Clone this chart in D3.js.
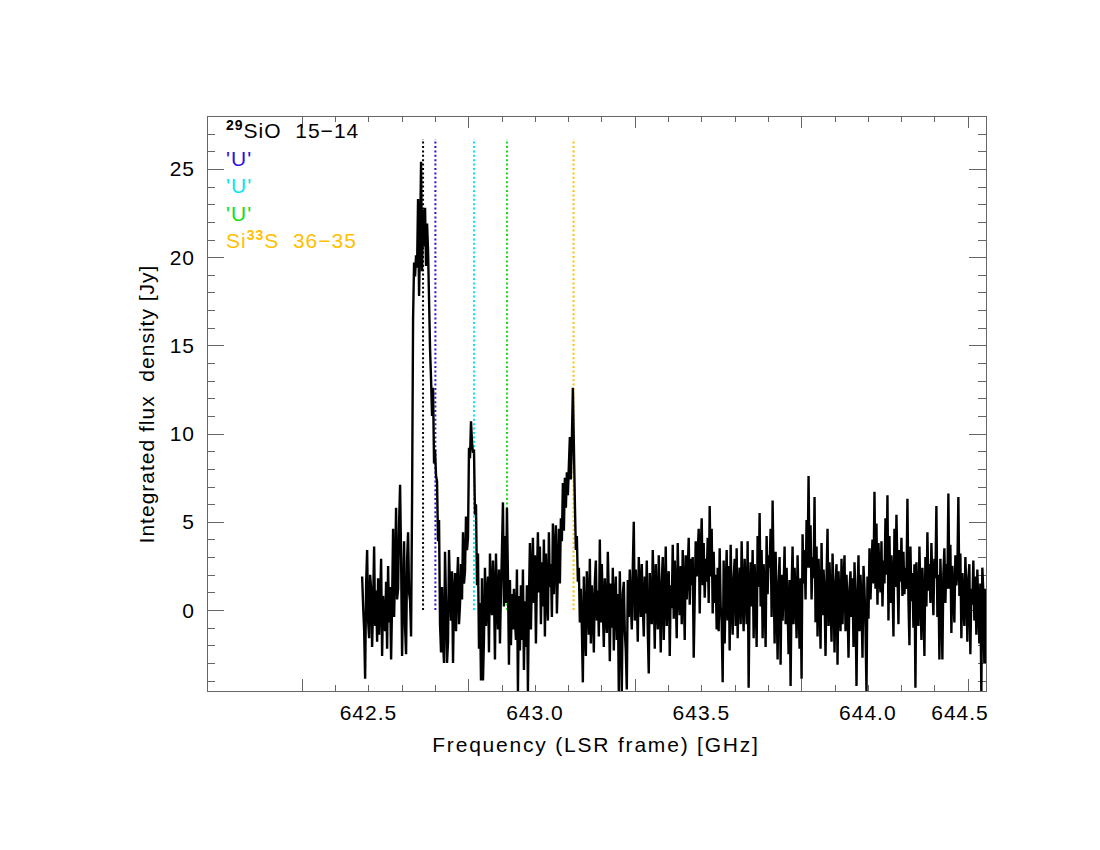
<!DOCTYPE html>
<html>
<head>
<title>Spectrum</title>
<style type="text/css">
body{ margin: 0; background: #fff; }
text{ font-family: "Liberation Sans", Arial, sans-serif; white-space: pre; letter-spacing: 1px; }
.axis line{ stroke: #666; stroke-width: 1; shape-rendering: crispEdges; }
.axis path{ display: none; }
</style>
<script src="https://cdn.jsdelivr.net/npm/d3@7/dist/d3.min.js"></script>
</head>
<body>
<script>
// channel grid of the spectrum (GHz)
const freqStart = 642.681, freqStep = 0.003;

// integrated flux density per channel [Jy]
const fluxValues = [
  1.9,0.2,-1.1,-3.9,1.5,3.4,-0.6,-1.6,2.0,1.2,-2.1,0.4,3.6,-0.9,1.1,-1.8,1.8,-1.4,0.6,2.9,
  -2.6,0.8,-0.5,-1.2,1.6,-2.2,2.5,-0.7,1.3,-2.8,0.4,4.6,-0.4,2.1,5.8,0.6,1.2,4.9,7.1,3.0,
  -2.6,0.9,3.9,-1.0,-2.5,2.8,4.4,1.0,0.5,-1.5,6.2,16.5,19.7,18.9,20.1,19.4,23.3,17.8,21.0,25.4,
  19.2,22.7,20.6,22.8,19.5,21.9,20.4,17.6,14.8,13.1,11.0,12.6,8.3,9.1,7.6,7.3,3.9,5.1,-0.8,-2.4,
  1.3,-1.9,-3.0,3.3,0.5,-3.0,-1.8,3.4,1.1,-0.6,2.2,-3.0,0.8,2.1,-1.2,1.4,3.0,-0.8,0.3,2.6,
  0.6,4.4,1.5,2.2,5.3,3.4,4.1,9.2,8.6,10.7,9.5,8.9,9.1,5.4,6.0,1.4,3.2,-2.2,0.4,-4.0,
  1.8,-4.0,-1.6,2.4,-0.9,0.7,1.9,-2.4,3.2,0.9,-0.3,2.8,1.1,-2.8,3.2,0.4,-1.1,2.3,-1.9,1.0,
  3.4,6.1,0.2,4.2,0.4,5.8,1.9,-3.1,1.7,-2.0,0.9,-1.1,1.2,-0.5,-1.7,2.3,-4.6,0.8,-2.3,1.4,
  -1.7,2.3,-3.4,0.5,-2.1,1.4,-4.6,0.6,3.8,-1.1,2.0,4.1,0.4,3.1,-1.9,1.8,4.4,1.0,3.6,-0.8,
  2.7,0.2,4.0,-1.5,3.2,0.9,-0.6,4.4,1.3,2.6,-0.4,4.9,0.9,3.3,4.8,-0.2,2.0,4.6,1.5,5.2,
  3.9,7.2,4.5,7.5,5.8,7.8,6.5,8.2,9.8,7.4,9.6,12.6,9.4,6.1,3.4,4.2,1.6,2.4,-0.7,1.2,
  -1.0,-4.1,1.9,-0.9,-2.6,2.2,0.3,-1.4,2.9,-1.9,1.4,0.2,-2.4,1.6,2.8,-0.6,1.1,-1.5,4.0,-0.7,
  2.6,0.1,-2.1,1.8,-0.4,-1.3,3.3,0.8,-2.9,1.5,-1.0,2.4,-2.3,0.6,1.9,-1.7,0.9,-4.7,2.2,-0.8,
  -4.6,0.9,1.6,-1.2,-2.3,-4.5,1.7,-0.4,2.3,0.5,-1.1,2.4,5.0,-0.6,2.3,0.7,-1.8,3.0,1.2,-0.4,
  2.6,0.3,-1.5,1.9,-0.2,2.8,-1.2,-3.6,2.1,0.4,-0.8,3.4,1.0,-2.2,2.6,0.2,-1.1,3.1,0.5,-2.4,
  1.6,3.0,-1.7,0.8,3.6,-0.9,1.5,2.2,-2.6,1.4,0.1,3.7,-0.5,2.8,1.0,-1.6,3.8,0.9,-0.3,2.5,
  -0.8,3.4,1.2,-1.7,3.1,0.6,2.2,4.1,0.3,2.9,1.4,3.0,-2.7,0.7,3.9,1.9,3.2,4.6,-0.2,3.3,
  5.2,1.4,3.8,0.7,2.9,1.6,4.1,0.4,5.9,1.9,4.6,-0.2,3.3,0.4,2.0,-1.1,2.4,-1.2,3.5,0.2,
  -0.7,-4.1,2.8,-1.9,1.1,3.4,-0.6,2.5,-2.3,3.7,0.5,-1.4,1.8,2.9,-0.9,3.5,-1.6,1.2,2.4,-0.8,
  3.9,0.6,-1.2,2.9,1.1,-0.8,3.9,-4.4,1.1,2.7,0.2,3.4,-1.6,2.6,0.8,-2.1,4.2,1.3,5.5,0.2,
  3.4,-1.6,2.6,1.0,-2.1,4.2,0.9,3.1,2.4,4.6,-0.4,6.2,2.1,-1.9,3.3,0.5,-2.8,1.5,3.0,-3.1,
  2.0,-0.6,1.2,3.6,-0.8,2.4,0.2,-2.5,1.7,-4.3,1.2,3.6,-0.8,2.4,0.9,-1.6,3.1,0.4,-2.2,1.8,
  -3.9,4.3,1.5,3.4,0.6,5.1,2.4,7.6,2.4,4.8,0.6,3.0,1.8,6.4,-0.7,3.6,-1.5,2.9,0.8,-2.2,
  3.8,-0.3,2.3,0.9,-2.6,1.8,4.6,-0.9,2.7,0.5,-1.8,3.2,1.1,-2.4,1.4,2.6,-3.1,2.2,0.4,-1.2,
  2.9,-0.8,1.6,3.1,-1.2,2.0,0.3,-2.7,1.2,2.2,-0.4,1.8,-2.1,2.7,0.6,-4.3,0.8,3.1,-1.2,2.0,
  0.4,-2.7,2.5,1.2,-1.0,-4.6,1.9,-0.5,3.5,0.6,2.4,4.0,1.5,6.7,1.2,4.9,0.3,3.8,2.0,1.0,
  3.9,0.2,2.8,1.5,5.2,2.0,6.5,-0.6,4.2,0.4,3.1,1.6,-1.5,4.6,1.3,5.4,2.2,-0.8,3.4,1.6,
  4.1,0.8,3.3,0.9,2.4,1.2,6.3,0.6,-2.0,3.6,0.5,2.1,-1.0,2.6,-4.4,2.7,0.2,-0.9,3.6,1.0,
  -1.7,2.4,0.6,-2.6,3.0,0.2,4.4,1.1,2.6,0.4,3.8,1.5,-0.3,2.9,1.8,5.9,-0.4,2.0,-2.8,2.9,
  0.6,-2.8,2.1,3.5,0.4,2.6,1.2,6.6,1.2,3.7,-1.3,2.5,0.9,-0.7,3.1,1.4,2.2,6.4,0.8,3.2,
  -1.6,2.1,0.4,-0.9,3.0,1.3,-1.8,1.7,2.6,-2.5,1.2,0.3,2.8,-0.6,1.9,-1.4,2.3,0.1,-1.9,1.5,
  -4.7,2.4,1.0,-3.0,1.2,-3.0
];

// marked transitions
const lineFreqs  = [642.864, 642.901, 643.017, 643.116, 643.316];
const lineColors = ["#000000", "#3010e0", "#00e8f0", "#10e010", "#ffc000"];
const lineTop = 26.7;
const legendLabels = [
  [{t: "29", sup: true}, {t: "SiO  15\u221214"}],
  [{t: "'U'"}],
  [{t: "'U'"}],
  [{t: "'U'"}],
  [{t: "Si"}, {t: "33", sup: true}, {t: "S  36\u221235"}]
];

const xTickValues = [642.5, 643.0, 643.5, 644.0, 644.5];
const yTickValues = [0, 5, 10, 15, 20, 25];

const width = 1100, height = 850;
const m = {left: 207, right: 986, top: 116, bottom: 691};

const data = fluxValues.map((v, i) => ({freq: freqStart + i * freqStep, flux: v}));

const svg = d3.select("body").append("svg").attr("width", width).attr("height", height);

const xScale = d3.scaleLinear().domain([642.215, 644.555]).range([m.left, m.right]);
const yScale = d3.scaleLinear().domain([-4.59, 28.0]).range([m.bottom, m.top]);

svg.append("defs").append("clipPath").attr("id", "plotClip")
   .append("rect").attr("x", m.left).attr("y", m.top)
   .attr("width", m.right - m.left).attr("height", m.bottom - m.top);

// minor ticks every 0.1 GHz and 1 Jy
const xMinorTicks = d3.range(3, 26).map(k => +(642.2 + k * 0.1).toFixed(1))
   .filter(v => v <= 644.55 && xTickValues.indexOf(v) < 0);
const yMinorTicks = d3.range(-4, 29).filter(v => v % 5 !== 0);

function fmt() { return ""; }

svg.append("g").attr("class", "axis").attr("transform", `translate(0,${m.bottom})`)
   .call(d3.axisTop(xScale).tickValues(xTickValues).tickSize(12).tickFormat(fmt));
svg.append("g").attr("class", "axis").attr("transform", `translate(0,${m.bottom})`)
   .call(d3.axisTop(xScale).tickValues(xMinorTicks).tickSize(6).tickFormat(fmt));
svg.append("g").attr("class", "axis").attr("transform", `translate(0,${m.top})`)
   .call(d3.axisBottom(xScale).tickValues(xTickValues).tickSize(12).tickFormat(fmt));
svg.append("g").attr("class", "axis").attr("transform", `translate(0,${m.top})`)
   .call(d3.axisBottom(xScale).tickValues(xMinorTicks).tickSize(6).tickFormat(fmt));

svg.append("g").attr("class", "axis").attr("transform", `translate(${m.left},0)`)
   .call(d3.axisRight(yScale).tickValues(yTickValues).tickSize(17).tickFormat(fmt));
svg.append("g").attr("class", "axis").attr("transform", `translate(${m.left},0)`)
   .call(d3.axisRight(yScale).tickValues(yMinorTicks).tickSize(8).tickFormat(fmt));
svg.append("g").attr("class", "axis").attr("transform", `translate(${m.right},0)`)
   .call(d3.axisLeft(yScale).tickValues(yTickValues).tickSize(17).tickFormat(fmt));
svg.append("g").attr("class", "axis").attr("transform", `translate(${m.right},0)`)
   .call(d3.axisLeft(yScale).tickValues(yMinorTicks).tickSize(8).tickFormat(fmt));

// frame
svg.append("rect").attr("x", m.left).attr("y", m.top)
   .attr("width", m.right - m.left).attr("height", m.bottom - m.top)
   .attr("fill", "none").attr("stroke", "#666").attr("stroke-width", 1)
   .attr("shape-rendering", "crispEdges");

// tick labels (drawn two minor steps right of their ticks, as in the original)
const labelShift = 0.2;
svg.append("g").selectAll("text").data(xTickValues).enter().append("text")
   .attr("x", d => Math.min(xScale(d + labelShift), m.right - 26))
   .attr("y", 720)
   .attr("text-anchor", "middle")
   .attr("font-size", 21)
   .text(d => d.toFixed(1));

svg.append("g").selectAll("text").data(yTickValues).enter().append("text")
   .attr("x", 195)
   .attr("y", d => yScale(d) + 7.5)
   .attr("text-anchor", "end")
   .attr("font-size", 21)
   .text(d => d);

svg.append("text").attr("x", 596).attr("y", 752)
   .attr("text-anchor", "middle").attr("font-size", 21)
   .style("letter-spacing", "1.8px")
   .text("Frequency (LSR frame) [GHz]");

svg.append("text")
   .attr("transform", "translate(154,404) rotate(-90)")
   .attr("text-anchor", "middle").attr("font-size", 21)
   .text("Integrated flux  density [Jy]");

// marker lines
const plot = svg.append("g").attr("clip-path", "url(#plotClip)");
plot.selectAll("line.marker").data(lineFreqs).enter().append("line")
   .attr("class", "marker")
   .attr("x1", d => xScale(d)).attr("x2", d => xScale(d))
   .attr("y1", yScale(0)).attr("y2", yScale(lineTop))
   .attr("stroke", (d, i) => lineColors[i])
   .attr("stroke-width", 2)
   .attr("stroke-dasharray", "2,2.4");

// spectrum
const lineGen = d3.line().x(d => xScale(d.freq)).y(d => yScale(d.flux));
plot.append("path").datum(data)
   .attr("d", lineGen)
   .attr("fill", "none")
   .attr("stroke", "#000")
   .attr("stroke-width", 2.4);

// labels of the transitions, superscripts raised by 8px
const legend = svg.append("g");
legendLabels.forEach((parts, i) => {
  const t = legend.append("text")
     .attr("x", 226).attr("y", 138 + i * 27.5)
     .attr("font-size", 21)
     .attr("fill", lineColors[i]);
  parts.forEach((p, j) => {
    const s = t.append("tspan").text(p.t);
    if (p.sup) s.attr("font-size", 14).attr("font-weight", "bold").attr("dy", -8);
    else if (j > 0 && parts[j - 1].sup) s.attr("dy", 8);
  });
});
</script>
</body>
</html>
